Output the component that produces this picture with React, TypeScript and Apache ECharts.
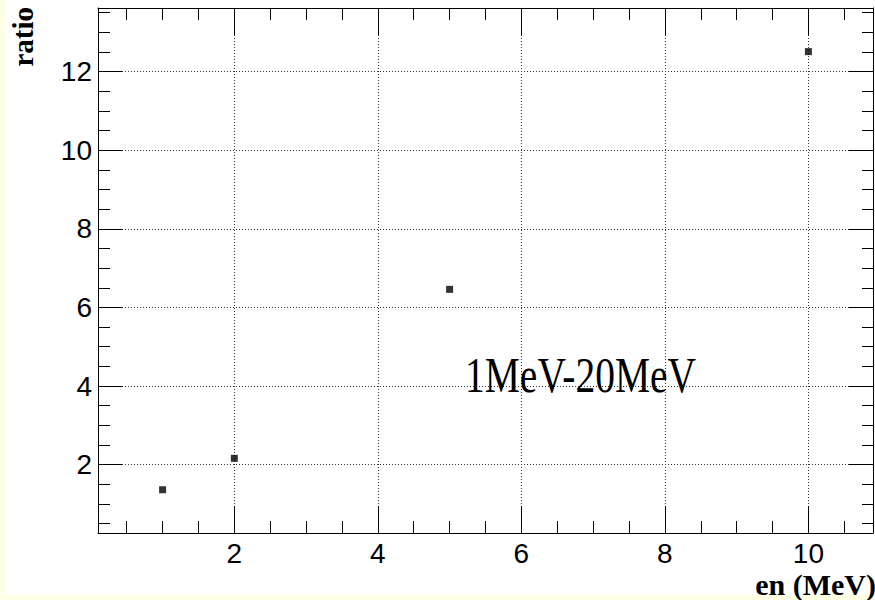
import React, { useEffect, useRef } from "react";
import * as echarts from "echarts";

// Data
const energies = [1, 2, 5, 10];
const ratios = [1.36, 2.16, 6.46, 12.51];

// Axis ranges (ROOT-style automatic range with 10% margin)
const X_MIN = 0.1;
const X_MAX = 10.9;
const Y_MIN = 0.26;
const Y_MAX = 13.62;

const X_TITLE = "en (MeV)";
const Y_TITLE = "ratio";
const ANNOTATION = "1MeV-20MeV";

const BLACK = "#000";
const GRID_COLOR = "#333";
const PAGE_YELLOW = "#ffffe3";

function majorAxis(kind: "x" | "y", position: string, withLabels: boolean, tickLen: number, min: number, max: number) {
  return {
    type: "value",
    position,
    min,
    max,
    minInterval: 2,
    maxInterval: 2,
    axisLine: { show: true, onZero: false, lineStyle: { color: BLACK, width: 1 } },
    axisTick: { show: true, inside: true, length: tickLen, lineStyle: { color: BLACK, width: 1 } },
    axisLabel: {
      show: withLabels,
      margin: 6,
      fontSize: 28,
      fontFamily: "Liberation Sans",
      color: BLACK,
      showMinLabel: false,
      showMaxLabel: false,
    },
    splitLine: {
      show: withLabels,
      lineStyle: { color: GRID_COLOR, width: 1, type: [1, 2] },
    },
    minorTick: { show: false },
  };
}

function minorAxis(position: string, tickLen: number, min: number, max: number) {
  return {
    type: "value",
    position,
    min,
    max,
    minInterval: 0.5,
    maxInterval: 0.5,
    axisLine: { show: false, onZero: false },
    axisTick: { show: true, inside: true, length: tickLen, lineStyle: { color: BLACK, width: 1 } },
    axisLabel: { show: false },
    splitLine: { show: false },
  };
}

const option: any = {
  animation: false,
  backgroundColor: "#fff",
  grid: { left: 98, right: 2, top: 8, bottom: 67, show: false, containLabel: false },
  xAxis: [
    majorAxis("x", "bottom", true, 27, X_MIN, X_MAX),
    minorAxis("bottom", 12, X_MIN, X_MAX),
    majorAxis("x", "top", false, 27, X_MIN, X_MAX),
    minorAxis("top", 12, X_MIN, X_MAX),
  ],
  yAxis: [
    majorAxis("y", "left", true, 24, Y_MIN, Y_MAX),
    minorAxis("left", 12, Y_MIN, Y_MAX),
    majorAxis("y", "right", false, 24, Y_MIN, Y_MAX),
    minorAxis("right", 11, Y_MIN, Y_MAX),
  ],
  series: [
    {
      type: "scatter",
      xAxisIndex: 0,
      yAxisIndex: 0,
      data: energies.map((e, i) => [e, ratios[i]]),
      symbol: "rect",
      symbolSize: 7,
      itemStyle: { color: BLACK },
    },
  ],
  graphic: [
    {
      type: "rect",
      silent: true,
      z: 100,
      shape: { x: 0, y: 0, width: 5, height: 600 },
      style: { fill: PAGE_YELLOW },
    },
    {
      type: "rect",
      silent: true,
      z: 100,
      shape: { x: 0, y: 595, width: 875, height: 5 },
      style: { fill: PAGE_YELLOW },
    },
    {
      type: "text",
      x: 23,
      y: 7,
      rotation: Math.PI / 2,
      z: 101,
      style: {
        text: Y_TITLE,
        fontSize: 29,
        fontWeight: "bold",
        fontFamily: "Liberation Serif",
        fill: BLACK,
        align: "right",
        verticalAlign: "middle",
      },
    },
    {
      type: "text",
      x: 876,
      y: 584,
      z: 101,
      style: {
        text: X_TITLE,
        fontSize: 30,
        fontWeight: "bold",
        fontFamily: "Liberation Serif",
        fill: BLACK,
        align: "right",
        verticalAlign: "middle",
      },
    },
    {
      type: "text",
      x: 465,
      y: 375,
      scaleX: 0.79,
      z: 101,
      style: {
        text: ANNOTATION,
        fontSize: 50,
        fontFamily: "Liberation Serif",
        fill: BLACK,
        align: "left",
        verticalAlign: "middle",
      },
    },
  ],
};

export default function App() {
  const ref = useRef<HTMLDivElement>(null);
  useEffect(() => {
    if (!ref.current) return;
    const chart = echarts.init(ref.current, null, { renderer: "svg" });
    chart.setOption(option);
    return () => chart.dispose();
  }, []);
  return (
    <div
      ref={ref}
      style={{ position: "absolute", left: 0, top: 0, width: 875, height: 600 }}
    />
  );
}
